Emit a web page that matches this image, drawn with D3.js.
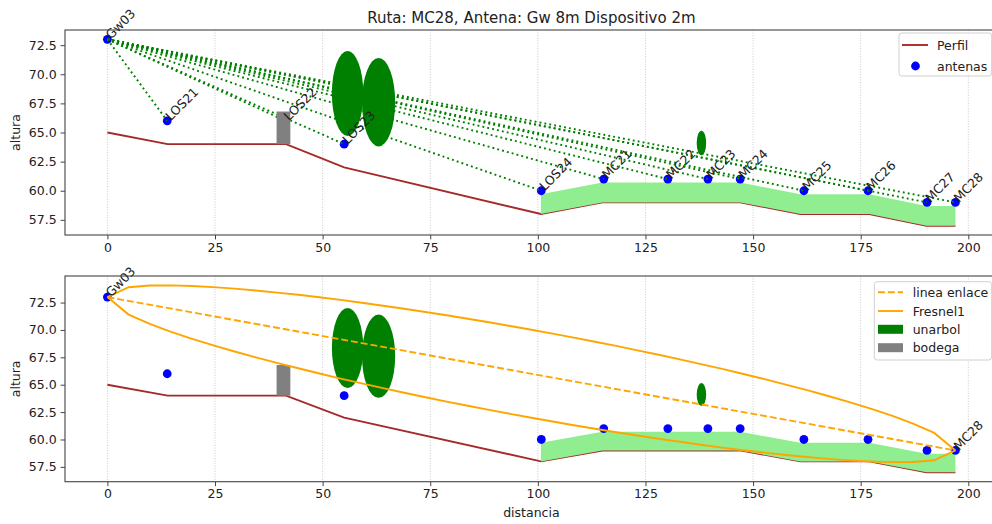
<!DOCTYPE html>
<html>
<head>
<meta charset="utf-8">
<script src="https://cdn.jsdelivr.net/npm/d3@7"></script>
<style>
  html, body { margin: 0; padding: 0; background: #fff; }
  text { font-family: "DejaVu Sans", sans-serif; fill: #222; }
</style>
</head>
<body>
<svg id="chart" width="992" height="524"></svg>
<script>
// --- terrain profile along the route ---
const perfilX = [0, 14, 41.5, 55, 100.7, 115, 147, 161, 177, 190.3, 197];
const perfilY = [65, 64, 64, 62, 58, 59, 59, 58, 58, 57, 57];

// --- antennas (gateway first) ---
const antenaNames = ["Gw03", "LOS21", "LOS22", "LOS23", "LOS24", "MC21", "MC22", "MC23", "MC24", "MC25", "MC26", "MC27", "MC28"];
const antenaX = [0, 13.9, 41.4, 55, 100.8, 115.3, 130.2, 139.5, 147, 161.8, 176.7, 190.4, 197];
const antenaY = [73, 66, 66, 64, 60, 61, 61, 61, 61, 60, 60, 59, 59];

// --- crop band over the terrain (from this distance on) ---
const cultivoDesde = 100.7;
const cultivoAltura = 1.7;

// --- trees (centre, width, height in data units) ---
const arbolX = [55.8, 63, 138];
const arbolY = [68.35, 67.6, 64.1];
const arbolAncho = [7.3, 7.7, 2.2];
const arbolAlto = [7.3, 7.6, 2.1];

// --- warehouse ---
const bodegaX = 39.3, bodegaAncho = 3.2, bodegaBase = 64, bodegaAlto = 2.8;

// --- first Fresnel zone for the link Gw03 -> MC28 ---
const fresnelX = [0, 4.93, 9.85, 14.78, 19.7, 24.63, 29.55, 34.48, 39.4, 44.33, 49.25, 54.18, 59.1, 64.03, 68.95, 73.88, 78.8, 83.73, 88.65, 93.58, 98.5, 103.43, 108.35, 113.28, 118.2, 123.13, 128.05, 132.98, 137.9, 142.83, 147.75, 152.68, 157.6, 162.53, 167.45, 172.38, 177.3, 182.23, 187.15, 192.08, 197];
const fresnelSup = [73.00, 73.90, 74.05, 74.07, 74.01, 73.91, 73.77, 73.60, 73.41, 73.21, 72.98, 72.74, 72.48, 72.21, 71.93, 71.64, 71.34, 71.02, 70.70, 70.36, 70.02, 69.66, 69.30, 68.92, 68.54, 68.14, 67.73, 67.31, 66.88, 66.44, 65.98, 65.51, 65.01, 64.50, 63.97, 63.41, 62.81, 62.17, 61.45, 60.60, 59.00];
const fresnelInf = [73.00, 71.40, 70.55, 69.83, 69.19, 68.59, 68.03, 67.50, 66.99, 66.50, 66.02, 65.56, 65.12, 64.69, 64.27, 63.86, 63.46, 63.08, 62.70, 62.34, 61.98, 61.64, 61.30, 60.98, 60.66, 60.36, 60.07, 59.79, 59.52, 59.26, 59.02, 58.80, 58.59, 58.40, 58.23, 58.09, 57.99, 57.93, 57.95, 58.10, 59.00];

const xTicks = [0, 25, 50, 75, 100, 125, 150, 175, 200];
const yTicks = [57.5, 60.0, 62.5, 65.0, 67.5, 70.0, 72.5];

const titulo = "Ruta: MC28, Antena: Gw 8m Dispositivo 2m";

// ---------------------------------------------------------------
const svg = d3.select("#chart");
const FS = 12.5;
const C = {
  perfil: "#a52a2a", antena: "#0000ff", los: "#008000", arbol: "#008000",
  bodega: "#808080", cultivo: "#90ee90", fresnel: "#ffa500", spine: "#444"
};

const perfil = perfilX.map((x, i) => ({ x, y: perfilY[i] }));
const antenas = antenaNames.map((n, i) => ({ name: n, x: antenaX[i], y: antenaY[i] }));
const cultivo = perfil.filter(p => p.x >= cultivoDesde).map(p => ({ x: p.x, y0: p.y, y1: p.y + cultivoAltura }));
const arboles = arbolX.map((x, i) => ({ x, y: arbolY[i], w: arbolAncho[i], h: arbolAlto[i] }));
const fresnel = fresnelX.map((x, i) => ({ x, sup: fresnelSup[i], inf: fresnelInf[i] }));

function pad(ext) { const d = (ext[1] - ext[0]) * 0.05; return [ext[0] - d, ext[1] + d]; }

const xExt = pad(d3.extent(perfilX.concat(antenaX)));
const y1Ext = pad(d3.extent(perfilY.concat(antenaY)));
const y2Ext = pad(d3.extent(perfilY.concat(antenaY, fresnelSup, fresnelInf)));

const L = 65, R = 997.8;
const panels = [
  { top: 30, bottom: 235, yExt: y1Ext, id: "p1" },
  { top: 276, bottom: 481.7, yExt: y2Ext, id: "p2" }
];

const x = d3.scaleLinear().domain(xExt).range([L, R]);

function setupPanel(p) {
  const y = d3.scaleLinear().domain(p.yExt).range([p.bottom, p.top]);
  svg.append("clipPath").attr("id", "clip-" + p.id)
    .append("rect").attr("x", L).attr("y", p.top).attr("width", R - L).attr("height", p.bottom - p.top);
  const g = svg.append("g");
  // vertical grid
  g.append("g").selectAll("line").data(xTicks).join("line")
    .attr("x1", d => x(d)).attr("x2", d => x(d))
    .attr("y1", p.top).attr("y2", p.bottom)
    .attr("stroke", "#bdbdbd").attr("stroke-width", 0.8).attr("stroke-dasharray", "1,1.6");
  const plot = g.append("g").attr("clip-path", `url(#clip-${p.id})`);
  return { y, g, plot };
}

function drawAxes(p, y, g, showXLabel) {
  const ax = g.append("g").attr("transform", `translate(0,${p.bottom})`)
    .call(d3.axisBottom(x).tickValues(xTicks).tickFormat(d3.format("d")).tickSize(4.4).tickPadding(3.5).tickSizeOuter(0));
  const ay = g.append("g").attr("transform", `translate(${L},0)`)
    .call(d3.axisLeft(y).tickValues(yTicks).tickFormat(d3.format(".1f")).tickSize(4.4).tickPadding(4).tickSizeOuter(0));
  [ax, ay].forEach(a => {
    a.select(".domain").remove();
    a.selectAll("line").attr("stroke", C.spine);
    a.selectAll("text").attr("font-size", FS).attr("font-family", "DejaVu Sans").attr("fill", "#222");
  });
  g.append("rect").attr("x", L).attr("y", p.top).attr("width", R - L).attr("height", p.bottom - p.top)
    .attr("fill", "none").attr("stroke", C.spine).attr("stroke-width", 1.1);
  g.append("text").attr("transform", `translate(20,${(p.top + p.bottom) / 2}) rotate(-90)`)
    .attr("text-anchor", "middle").attr("font-size", FS).text("altura");
  if (showXLabel) {
    g.append("text").attr("x", (L + R) / 2).attr("y", 516.5)
      .attr("text-anchor", "middle").attr("font-size", FS).text("distancia");
  }
}

function drawTerrain(plot, y) {
  plot.append("path").datum(perfil)
    .attr("d", d3.line().x(d => x(d.x)).y(d => y(d.y)))
    .attr("fill", "none").attr("stroke", C.perfil).attr("stroke-width", 1.9);
  plot.append("path").datum(cultivo)
    .attr("d", d3.area().x(d => x(d.x)).y0(d => y(d.y0)).y1(d => y(d.y1)))
    .attr("fill", C.cultivo);
}

function drawAntenas(plot, y) {
  plot.append("g").selectAll("circle").data(antenas).join("circle")
    .attr("cx", d => x(d.x)).attr("cy", d => y(d.y)).attr("r", 4.4)
    .attr("fill", C.antena);
}

function drawObstacles(plot, y) {
  plot.append("g").selectAll("ellipse").data(arboles).join("ellipse")
    .attr("cx", d => x(d.x)).attr("cy", d => y(d.y))
    .attr("rx", d => x(d.x + d.w / 2) - x(d.x))
    .attr("ry", d => y(d.y) - y(d.y + d.h / 2))
    .attr("fill", C.arbol);
  plot.append("rect")
    .attr("x", x(bodegaX)).attr("width", x(bodegaX + bodegaAncho) - x(bodegaX))
    .attr("y", y(bodegaBase + bodegaAlto)).attr("height", y(bodegaBase) - y(bodegaBase + bodegaAlto))
    .attr("fill", C.bodega);
}

function drawNames(g, y, list) {
  g.append("g").selectAll("text").data(list).join("text")
    .attr("transform", d => `translate(${x(d.x) + 3.5},${y(d.y) + 0.5}) rotate(-45)`)
    .attr("font-size", FS).text(d => d.name);
}

// ---------- top panel: line of sight from the gateway to every antenna ----------
{
  const p = panels[0];
  const { y, g, plot } = setupPanel(p);
  drawTerrain(plot, y);
  drawAntenas(plot, y);
  const gw = antenas[0];
  plot.append("g").selectAll("line").data(antenas.slice(1)).join("line")
    .attr("x1", x(gw.x)).attr("y1", y(gw.y))
    .attr("x2", d => x(d.x)).attr("y2", d => y(d.y))
    .attr("stroke", C.los).attr("stroke-width", 1.9).attr("stroke-dasharray", "1.9,3.1");
  drawObstacles(plot, y);
  drawNames(g, y, antenas);
  drawAxes(p, y, g, false);

  svg.append("text").attr("x", (L + R) / 2).attr("y", 22.5).attr("text-anchor", "middle")
    .attr("font-size", 15).text(titulo);

  // legend
  const lg = svg.append("g");
  lg.append("rect").attr("x", 899).attr("y", 33).attr("width", 92.7).attr("height", 43).attr("rx", 3)
    .attr("fill", "#fff").attr("fill-opacity", 0.8).attr("stroke", "#d0d0d0");
  lg.append("line").attr("x1", 902).attr("x2", 928).attr("y1", 45).attr("y2", 45)
    .attr("stroke", C.perfil).attr("stroke-width", 1.9);
  lg.append("text").attr("x", 937).attr("y", 49.5).attr("font-size", FS).text("Perfil");
  lg.append("circle").attr("cx", 915.5).attr("cy", 66).attr("r", 4.4).attr("fill", C.antena);
  lg.append("text").attr("x", 937).attr("y", 70.5).attr("font-size", FS).text("antenas");
}

// ---------- bottom panel: link line and first Fresnel zone ----------
{
  const p = panels[1];
  const { y, g, plot } = setupPanel(p);
  drawTerrain(plot, y);
  drawAntenas(plot, y);
  drawObstacles(plot, y);
  const gw = antenas[0], dest = antenas[antenas.length - 1];
  plot.append("line")
    .attr("x1", x(gw.x)).attr("y1", y(gw.y)).attr("x2", x(dest.x)).attr("y2", y(dest.y))
    .attr("stroke", C.fresnel).attr("stroke-width", 1.9).attr("stroke-dasharray", "6.9,3");
  ["sup", "inf"].forEach(k => {
    plot.append("path").datum(fresnel)
      .attr("d", d3.line().x(d => x(d.x)).y(d => y(d[k])))
      .attr("fill", "none").attr("stroke", C.fresnel).attr("stroke-width", 1.9);
  });
  drawNames(g, y, [gw, dest]);
  drawAxes(p, y, g, true);

  // legend
  const lg = svg.append("g");
  lg.append("rect").attr("x", 874.3).attr("y", 281.7).attr("width", 117.4).attr("height", 78.3).attr("rx", 3)
    .attr("fill", "#fff").attr("fill-opacity", 0.8).attr("stroke", "#d0d0d0");
  const rows = [
    { label: "linea enlace", type: "dash" },
    { label: "Fresnel1", type: "line" },
    { label: "unarbol", type: "patch", color: C.arbol },
    { label: "bodega", type: "patch", color: C.bodega }
  ];
  const rowY = [292.3, 311, 329.3, 347.7];
  rows.forEach((r, i) => {
    const yy = rowY[i];
    if (r.type === "patch") {
      lg.append("rect").attr("x", 878).attr("y", yy - 4.5).attr("width", 25).attr("height", 9).attr("fill", r.color);
    } else {
      lg.append("line").attr("x1", 878).attr("x2", 903).attr("y1", yy).attr("y2", yy)
        .attr("stroke", C.fresnel).attr("stroke-width", 1.9)
        .attr("stroke-dasharray", r.type === "dash" ? "6.9,3" : null);
    }
    lg.append("text").attr("x", 912.7).attr("y", yy + 4.5).attr("font-size", FS).text(r.label);
  });
}
</script>
</body>
</html>
